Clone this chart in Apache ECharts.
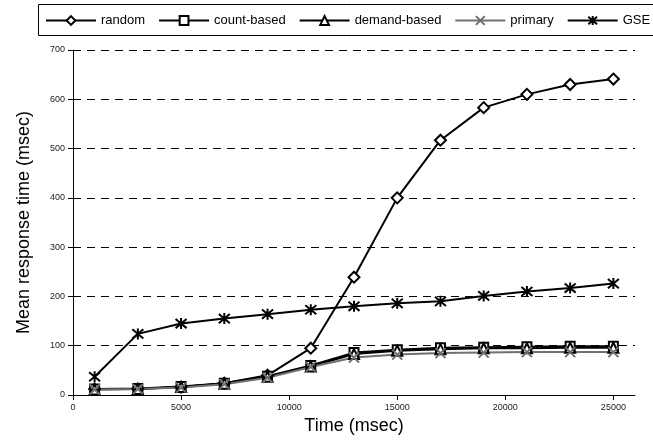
<!DOCTYPE html>
<html>
<head>
<meta charset="utf-8">
<script src="https://cdn.jsdelivr.net/npm/echarts@6/dist/echarts.min.js"></script>
<style>
    html, body { margin: 0; padding: 0; background: #fff; }
    #chart { width: 653px; height: 440px; }
</style>
</head>
<body>
<div id="chart"></div>
<script>
var times = [1000, 3000, 5000, 7000, 9000, 11000, 13000, 15000, 17000, 19000, 21000, 23000, 25000];
var randomData = [12, 12, 16, 24, 40, 95, 239, 400, 517, 583, 610, 630, 641];
var countData = [12, 13, 17, 24, 38, 60, 86, 92, 96, 97, 98, 99, 99];
var demandData = [11, 12, 16, 23, 37, 58, 83, 90, 93, 95, 95, 96, 96];
var primaryData = [11, 12, 15, 22, 35, 57, 76, 82, 85, 86, 87, 87, 87];
var gseData = [37, 124, 145, 155, 164, 173, 180, 186, 190, 201, 210, 217, 226];
var xTicks = [0, 5000, 10000, 15000, 20000, 25000];

function pairs(ys) {
    var out = [];
    for (var i = 0; i < times.length; i++) {
        out.push([times[i], ys[i]]);
    }
    return out;
}

var xMark = 'path://M0,0L10,10M10,0L0,10';
var starMark = 'path://M0,0L10,10M10,0L0,10M5,-1L5,11';

var myChart = echarts.init(document.getElementById('chart'));

function makeSeries(name, data, symbol, size, color, hollow) {
    return {
        name: name,
        type: 'line',
        data: pairs(data),
        symbol: symbol,
        symbolSize: size,
        showAllSymbol: true,
        lineStyle: { color: color, width: 2 },
        itemStyle: {
            color: hollow ? '#fff' : color,
            borderColor: color,
            borderWidth: 2
        },
        emphasis: { disabled: true },
        animation: false
    };
}

var option = {
    animation: false,
    graphic: [{
        type: 'rect',
        shape: { x: 38.5, y: 4.5, width: 640, height: 31 },
        style: { fill: 'none', stroke: '#000', lineWidth: 1 }
    }],
    legend: {
        left: 45,
        top: 14,
        padding: 0,
        itemWidth: 50,
        itemHeight: 11,
        itemGap: 13,
        textStyle: {
            color: '#000',
            fontFamily: 'Liberation Sans, Arial',
            fontSize: 13
        },
        data: ['random', 'count-based', 'demand-based', 'primary', 'GSE']
    },
    grid: {
        left: 73,
        right: 18,
        top: 50,
        bottom: 45
    },
    xAxis: {
        type: 'value',
        min: 0,
        max: 26000,
        interval: 1000,
        name: 'Time (msec)',
        nameLocation: 'middle',
        nameGap: 19,
        nameTextStyle: {
            color: '#000',
            fontFamily: 'Liberation Sans, Arial',
            fontSize: 18,
            verticalAlign: 'top'
        },
        splitLine: { show: false },
        axisLine: { show: true, lineStyle: { color: '#000', width: 1 } },
        axisTick: {
            show: true,
            length: 5,
            customValues: xTicks,
            lineStyle: { color: '#000' }
        },
        axisLabel: {
            customValues: xTicks,
            formatter: function (v) { return String(v); },
            color: '#222',
            fontFamily: 'Liberation Sans, Arial',
            fontSize: 9,
            margin: 8
        }
    },
    yAxis: {
        type: 'value',
        min: 0,
        max: 700,
        interval: 100,
        name: 'Mean response time (msec)',
        nameLocation: 'middle',
        nameGap: 40,
        nameTextStyle: {
            color: '#000',
            fontFamily: 'Liberation Sans, Arial',
            fontSize: 18
        },
        splitLine: {
            show: true,
            lineStyle: { color: '#000', width: 1, type: [8, 6] }
        },
        axisLine: { show: true, lineStyle: { color: '#000', width: 1 } },
        axisTick: { show: true, length: 5, lineStyle: { color: '#000' } },
        axisLabel: {
            color: '#222',
            fontFamily: 'Liberation Sans, Arial',
            fontSize: 9,
            margin: 8
        }
    },
    series: [
        makeSeries('random', randomData, 'diamond', 11, '#000', true),
        makeSeries('count-based', countData, 'rect', 9, '#000', true),
        makeSeries('demand-based', demandData, 'triangle', 10, '#000', true),
        makeSeries('primary', primaryData, xMark, 10, '#707070', false),
        makeSeries('GSE', gseData, starMark, 11, '#000', false)
    ]
};

myChart.setOption(option);
</script>
</body>
</html>
